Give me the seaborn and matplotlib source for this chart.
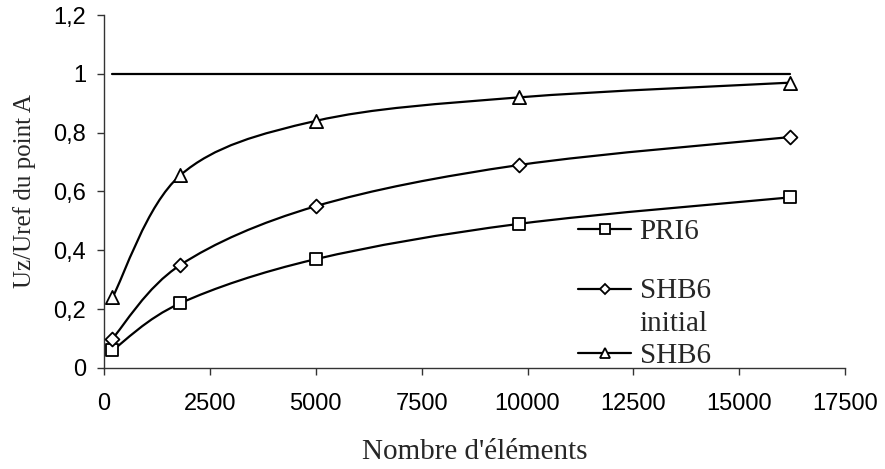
import numpy as np
import seaborn as sns
import matplotlib.pyplot as plt
from matplotlib.path import Path
from matplotlib.patches import PathPatch
from matplotlib.lines import Line2D
from matplotlib.legend_handler import HandlerLine2D
from matplotlib.ticker import FuncFormatter, MultipleLocator

# Données
nb_elements = [200, 1800, 5000, 9800, 16200]
pri6 = [0.06, 0.22, 0.37, 0.49, 0.58]
shb6_initial = [0.10, 0.35, 0.55, 0.69, 0.785]
shb6 = [0.24, 0.655, 0.84, 0.92, 0.97]
reference = [1, 1, 1, 1, 1]

series = [pri6, shb6_initial, shb6]
labels = ["PRI6", "SHB6\ninitial", "SHB6"]
markers = ["s", "D", "^"]
sizes = [75, 50, 90]

SERIF = ["Liberation Serif", "DejaVu Serif"]
SANS = ["Liberation Sans", "DejaVu Sans"]


# Courbe lissée (Bezier, comme les courbes lissées d'Excel)
def smooth_path(x, y):
    pts = np.column_stack([x, y]).astype(float)
    n = len(pts)
    verts = [pts[0]]
    codes = [Path.MOVETO]
    for i in range(n - 1):
        p_prev = pts[i - 1] if i > 0 else pts[i]
        p_next = pts[i + 2] if i + 2 < n else pts[i + 1]
        c1 = pts[i] + (pts[i + 1] - p_prev) / 6
        c2 = pts[i + 1] - (p_next - pts[i]) / 6
        verts += [c1, c2, pts[i + 1]]
        codes += [Path.CURVE4] * 3
    return Path(verts, codes)


# Marqueur de légende aligné sur la première ligne du texte
class RaisedHandler(HandlerLine2D):
    def __init__(self, raise_pts, **kw):
        super().__init__(**kw)
        self.raise_pts = raise_pts

    def create_artists(self, legend, orig_handle, xdescent, ydescent,
                       width, height, fontsize, trans):
        return super().create_artists(legend, orig_handle, xdescent,
                                      ydescent - 2 * self.raise_pts,
                                      width, height, fontsize, trans)


sns.set_style("ticks")
plt.rcParams['font.family'] = SANS

fig = plt.figure(figsize=(8.85, 4.69), dpi=100)
ax = fig.add_axes([0.1175, 0.2154, 0.8375, 0.7526])

sns.lineplot(x=nb_elements, y=reference, color="black", linewidth=1.6, ax=ax)

for vals, mk, sz in zip(series, markers, sizes):
    ax.add_patch(PathPatch(smooth_path(nb_elements, vals), facecolor="none",
                           edgecolor="black", linewidth=1.6, zorder=2))
    sns.scatterplot(x=nb_elements, y=vals, marker=mk, s=sz, color="white",
                    edgecolor="black", linewidth=1.3, zorder=3, ax=ax)

ax.set_xlim(0, 17500)
ax.set_ylim(0, 1.2)
ax.xaxis.set_major_locator(MultipleLocator(2500))
ax.yaxis.set_major_locator(MultipleLocator(0.2))
ax.yaxis.set_major_formatter(FuncFormatter(lambda v, p: f"{v:.1f}".rstrip("0").rstrip(".").replace(".", ",")))

for side in ["top", "right"]:
    ax.spines[side].set_visible(False)
for side in ["left", "bottom"]:
    ax.spines[side].set_color("#333333")
    ax.spines[side].set_linewidth(1.0)
ax.tick_params(axis="both", direction="out", length=5, width=1.0, color="#333333",
               labelsize=17, labelcolor="black")
ax.tick_params(axis="x", pad=13)
ax.tick_params(axis="y", pad=8)

ax.set_xlabel("Nombre d'éléments", fontsize=21, family=SERIF, labelpad=17)
ax.set_ylabel("Uz/Uref du point A", fontsize=18, family=SERIF, labelpad=12)

# Légende : une entrée par bloc, comme dans l'original
leg_y = [0.385, 0.17, 0.035]
leg_fs = 21
for i, (lab, mk) in enumerate(zip(labels, markers)):
    h = Line2D([], [], color="black", linewidth=1.6, marker=mk, markersize=7 if mk != "D" else 5.5,
               markerfacecolor="white", markeredgecolor="black", markeredgewidth=1.3)
    hmap = {h: RaisedHandler(13.5)} if "\n" in lab else None
    leg = ax.legend([h], [lab], loc="center left", bbox_to_anchor=(0.64, leg_y[i]),
                    frameon=False, borderpad=0, borderaxespad=0, handlelength=1.8,
                    handletextpad=0.3, prop={"family": SERIF, "size": leg_fs},
                    handler_map=hmap)
    for t in leg.get_texts():
        t.set_linespacing(1.35)
    if i < len(labels) - 1:
        ax.add_artist(leg)

fig.savefig("out.png", dpi=100)
